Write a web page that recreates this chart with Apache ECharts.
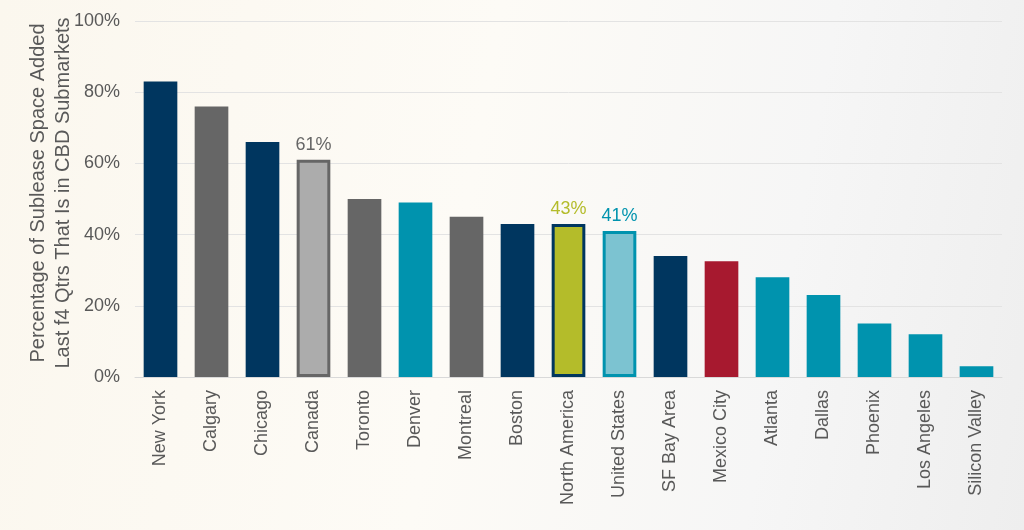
<!DOCTYPE html>
<html>
<head>
<meta charset="utf-8">
<title>Sublease space in CBD submarkets</title>
<script src="https://cdn.jsdelivr.net/npm/echarts@6/dist/echarts.min.js"></script>
<style>
  html, body { margin: 0; padding: 0; }
  body {
    width: 1024px; height: 530px;
    background: linear-gradient(100deg, #fbf7ee 0%, #fdfbf6 45%, #f6f6f6 75%, #eeeeee 100%);
  }
  #chart { width: 1024px; height: 530px; }
</style>
</head>
<body>
<div id="chart"></div>
<script>
// markets, left to right
const markets = ['New York', 'Calgary', 'Chicago', 'Canada', 'Toronto', 'Denver', 'Montreal', 'Boston',
    'North America', 'United States', 'SF Bay Area', 'Mexico City', 'Atlanta', 'Dallas', 'Phoenix',
    'Los Angeles', 'Silicon Valley'];
// share of sublease space added in CBD submarkets (%)
const cbdShare = [83, 76, 66, 61, 50, 49, 45, 43, 43, 41, 34, 32.5, 28, 23, 15, 12, 3];
// markets whose value is printed above the bar
const labelled = ['Canada', 'North America', 'United States'];
const yTicks = [0, 20, 40, 60, 80, 100];

const navy = '#00365f', grey = '#666666', teal = '#0093ae';
const barStyles = {
    'New York': { color: navy },
    'Calgary': { color: grey },
    'Chicago': { color: navy },
    'Canada': { color: '#acacac', borderColor: '#666666', borderWidth: 3 },
    'Toronto': { color: grey },
    'Denver': { color: teal },
    'Montreal': { color: grey },
    'Boston': { color: navy },
    'North America': { color: '#b4bc2a', borderColor: navy, borderWidth: 3 },
    'United States': { color: '#7cc3d1', borderColor: teal, borderWidth: 3 },
    'SF Bay Area': { color: navy },
    'Mexico City': { color: '#a7192f' },
    'Atlanta': { color: teal },
    'Dallas': { color: teal },
    'Phoenix': { color: teal },
    'Los Angeles': { color: teal },
    'Silicon Valley': { color: teal }
};
const labelColors = { 'Canada': '#666666', 'North America': '#b4bc2a', 'United States': '#0093ae' };

document.addEventListener('DOMContentLoaded', function () {
    var myChart = echarts.init(document.getElementById('chart'), null, { renderer: 'canvas' });

    var barData = markets.map(function (m, i) {
        var item = { value: cbdShare[i], itemStyle: barStyles[m] };
        if (labelled.indexOf(m) >= 0) {
            item.label = {
                show: true,
                position: 'top',
                distance: 6,
                formatter: '{c}%',
                fontSize: 18,
                color: labelColors[m]
            };
        }
        return item;
    });

    var option = {
        backgroundColor: 'transparent',
        textStyle: { fontFamily: 'Liberation Sans, Arial, sans-serif' },
        grid: { left: 135, right: 22, top: 21, bottom: 153 },
        xAxis: {
            type: 'category',
            data: markets,
            axisLine: { lineStyle: { color: '#d9d9d9', width: 1 } },
            axisTick: { show: false },
            axisLabel: {
                rotate: 90,
                interval: 0,
                margin: 13,
                fontSize: 18,
                color: '#595959'
            }
        },
        yAxis: {
            type: 'value',
            min: yTicks[0],
            max: yTicks[yTicks.length - 1],
            interval: 20,
            name: 'Percentage of Sublease Space Added\nLast f4 Qtrs That Is in CBD Submarkets',
            nameLocation: 'middle',
            nameGap: 59,
            nameMoveOverlap: false,
            nameTextStyle: { fontSize: 20, color: '#595959', lineHeight: 25, padding: [0, 0, 0, 12] },
            axisLine: { show: false },
            axisTick: { show: false },
            axisLabel: { formatter: '{value}%', fontSize: 18, color: '#595959', margin: 15 },
            splitLine: { lineStyle: { color: '#e3e3e3', width: 1 } }
        },
        series: [{
            type: 'bar',
            data: barData,
            barWidth: '66%',
            label: { show: false }
        }]
    };

    myChart.setOption(option);
    window.addEventListener('resize', function () { myChart.resize(); });
});
</script>
</body>
</html>
